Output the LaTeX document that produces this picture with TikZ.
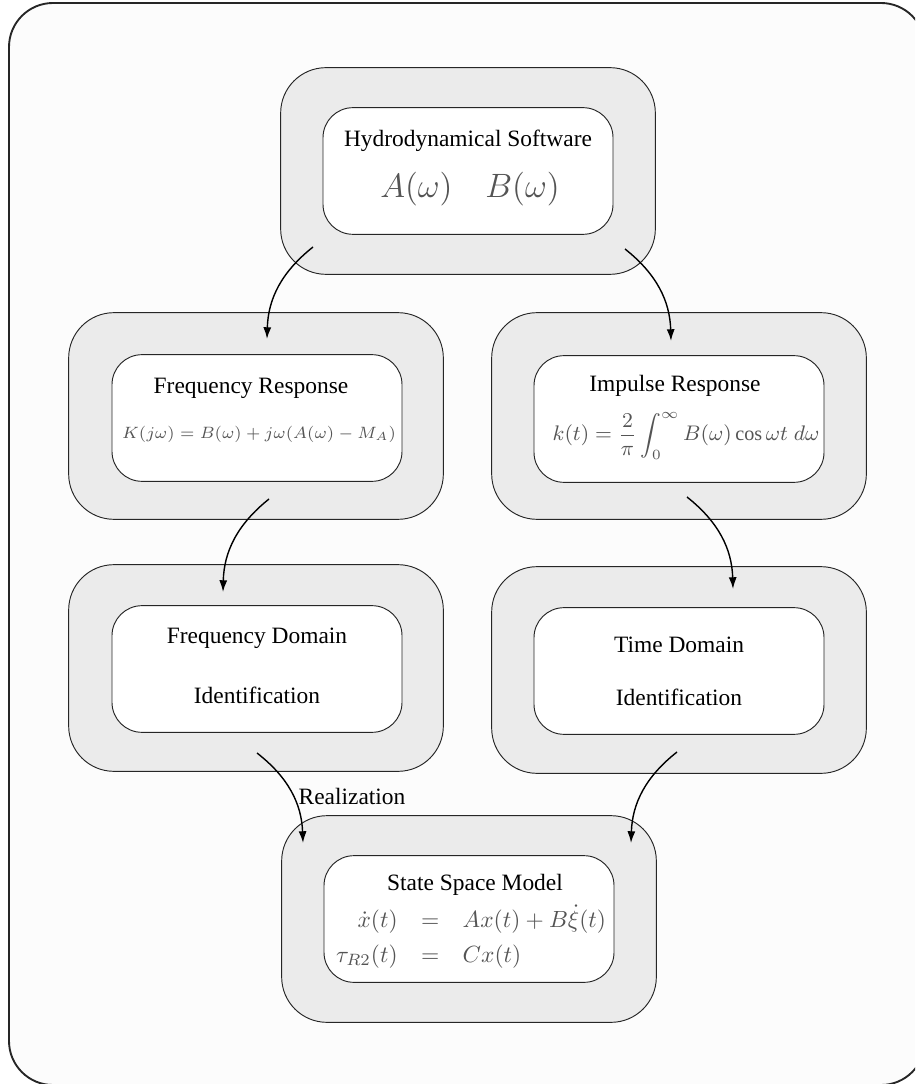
\documentclass[tikz,border=0pt]{standalone}
\usepackage{amsmath,amssymb}
\usepackage{fontspec}
\setmainfont{Liberation Serif}
\usetikzlibrary{arrows.meta, calc}
\definecolor{eqgray}{gray}{0.33}
\tikzset{
  framebox/.style={draw=black!85, line width=0.8pt, fill=black!1, rounded corners=0.66cm},
  shellbox/.style={draw=black!85, fill=black!8, rounded corners=0.68cm, minimum width=5.62cm, minimum height=3.1cm},
  corebox/.style={draw=black!85, fill=white, rounded corners=0.45cm, minimum width=4.35cm, minimum height=1.9cm},
  boxtext/.style={inner sep=0pt, align=center},
  eqtext/.style={inner sep=0pt, text=eqgray},
  wire/.style={-{Latex[length=5pt, width=3.4pt]}, semithick}
}

\begin{document}
\begin{tikzpicture}[x=0.015cm, y=-0.015cm]
        \useasboundingbox (0,0) rectangle (915,1084);
        \clip (0,0) rectangle (915,1084);
        \draw[framebox] (9,3) rectangle (925,1085);
        \node[shellbox] (hydro) at (468,171) {};
        \node[corebox] (hydrocore) at (468,171) {};
        \node[boxtext] (hydrotitle) at (468,141) {Hydrodynamical Software};
        \node[eqtext, font=\Large] (hydroeq) at (470,189) {$A(\omega)\hspace{14pt}B(\omega)$};
        \node[shellbox] (freqresp) at (256,416) {};
        \node[corebox] (freqrespcore) at (257,418) {};
        \node[boxtext] (freqresptitle) at (251,388) {Frequency Response};
        \node[eqtext, font=\fontsize{7.1}{9}\selectfont] (freqrespeq) at (259,434) {$K(j\omega)=B(\omega)+j\omega(A(\omega)-M_A)$};
        \node[shellbox] (impresp) at (679,416) {};
        \node[corebox] (imprespcore) at (679,419) {};
        \node[boxtext] (impresptitle) at (675,386) {Impulse Response};
        \node[eqtext, font=\fontsize{8.6}{10}\selectfont] (imprespeq) at (686,436) {$\displaystyle k(t)=\frac{2}{\pi}\int_0^\infty B(\omega)\cos\omega t\;d\omega$};
        \node[shellbox] (freqid) at (256,668) {};
        \node[corebox] (freqidcore) at (257,669) {};
        \node[boxtext] (freqidtitle) at (257,638) {Frequency Domain};
        \node[boxtext] (freqidsub) at (257,695) {Identification};
        \node[shellbox] (timeid) at (679,670) {};
        \node[corebox] (timeidcore) at (679,671) {};
        \node[boxtext] (timeidtitle) at (679,645) {Time Domain};
        \node[boxtext] (timeidsub) at (679,697) {Identification};
        \node[shellbox] (statespace) at (469,919) {};
        \node[corebox] (statespacecore) at (469,919) {};
        \node[boxtext] (statespacetitle) at (475,885) {State Space Model};
        \node[eqtext] (statespaceeq) at (471,938) {$\begin{array}{rcl}
                \dot{x}(t) & = & Ax(t)+B\dot{\xi}(t)\\[3pt]
                \tau_{R2}(t) & = & Cx(t)
              \end{array}$};
        \draw[wire] ($(hydro)+(-155,76)$) to[bend right=25] ($(freqresp)+(11,-77)$);
        \draw[wire] ($(hydro)+(157,78)$) to[bend left=25] ($(impresp)+(-8,-75)$);
        \draw[wire] ($(freqresp)+(13,83)$) to[bend right=25] ($(freqid)+(-33,-76)$);
        \draw[wire] ($(impresp)+(8,81)$) to[bend left=25] ($(timeid)+(54,-81)$);
        \draw[wire] ($(freqid)+(1,85)$) to[bend left=25] node[pos=0.55, right, inner sep=2pt] {Realization} ($(statespace)+(-166,-76)$);
        \draw[wire] ($(timeid)+(-2,82)$) to[bend right=25] ($(statespace)+(162,-76)$);
      \end{tikzpicture}
\end{document}
